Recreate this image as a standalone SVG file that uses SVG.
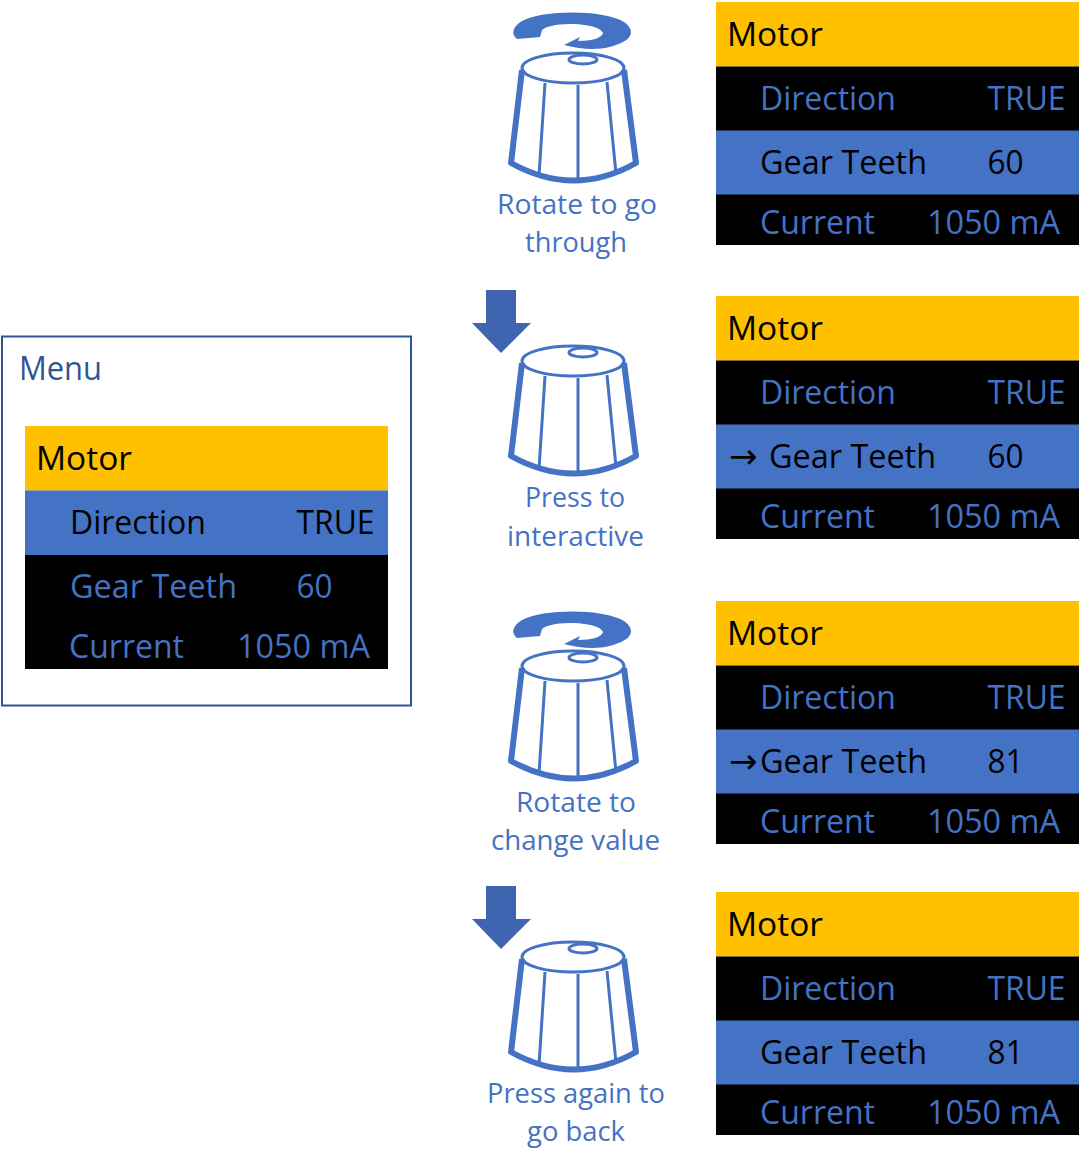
<svg xmlns="http://www.w3.org/2000/svg" width="1087" height="1167" viewBox="0 0 1087 1167">
<style>
text{font-family:"Open Sans","Noto Sans","Liberation Sans",sans-serif;font-size:32.500px}
.b{fill:#4472C4}.k{fill:#000}.y{fill:#FFC000}.m{fill:#2F5597}
.lab{fill:#4472C4;font-size:28px;text-anchor:middle}
.arr{font-family:"DejaVu Sans",sans-serif;font-size:34px}
.thick{fill:none;stroke:#4472C4;stroke-width:6;stroke-linejoin:round}
.thin{fill:none;stroke:#4472C4;stroke-width:3}
.rot{fill:#4472C4}.press{fill:#3F65B0}
</style>
<defs>
<g id="knob">
<path class="thick" d="M522 70L511 163Q574 198 636 163L624 70"/>
<ellipse class="thin" cx="573" cy="68" rx="51" ry="15"/>
<ellipse class="thin" cx="583" cy="59.500" rx="14" ry="4.500"/>
<path class="thin" d="M545 83L539 176M578 85L578 179M607 82L616 174"/>
</g>
<path id="rotate" class="rot" d="M517 39C511 34 512 27 522 21C545 9 605 10 624 22C634 29 633 37 623 42C610 49 590 52 564 45L580 37L578 41C592 41 602 38 603 33C601 27 585 24 570 24C555 24 545 27 542 30L540 37Z"/>
<path id="press" class="press" d="M486 290H516V323H531L501 353L472 323H486Z"/>
<g id="panel-base">
<rect x="716" y="2" width="363" height="64.500" class="y"/>
<rect x="716" y="66.500" width="363" height="178.500" class="k"/>
<rect x="716" y="130.500" width="363" height="64" class="b"/>
<text x="727" y="46" class="k" textLength="96" lengthAdjust="spacingAndGlyphs">Motor</text>
<text x="760" y="110" class="b" textLength="136" lengthAdjust="spacingAndGlyphs">Direction</text>
<text x="987.500" y="110" class="b" textLength="78" lengthAdjust="spacingAndGlyphs">TRUE</text>
<text x="760" y="234" class="b" textLength="115" lengthAdjust="spacingAndGlyphs">Current</text>
<text x="927" y="234" class="b" textLength="133" lengthAdjust="spacingAndGlyphs">1050 mA</text>
</g>
</defs>
<g id="menu">
<rect x="2" y="336.500" width="409" height="369" fill="#fff" stroke="#2F5597" stroke-width="2"/>
<text x="19" y="380" class="m" textLength="83" lengthAdjust="spacingAndGlyphs">Menu</text>
<rect x="25" y="426" width="363" height="64.500" class="y"/>
<rect x="25" y="490.500" width="363" height="64.500" class="b"/>
<rect x="25" y="555" width="363" height="114" class="k"/>
<text x="36" y="470" class="k" textLength="96" lengthAdjust="spacingAndGlyphs">Motor</text>
<text x="70" y="534" class="k" textLength="136" lengthAdjust="spacingAndGlyphs">Direction</text>
<text x="296.500" y="534" class="k" textLength="78" lengthAdjust="spacingAndGlyphs">TRUE</text>
<text x="70" y="598" class="b" textLength="167" lengthAdjust="spacingAndGlyphs">Gear Teeth</text>
<text x="296.500" y="598" class="b" textLength="36" lengthAdjust="spacingAndGlyphs">60</text>
<text x="69" y="658" class="b" textLength="115" lengthAdjust="spacingAndGlyphs">Current</text>
<text x="237" y="658" class="b" textLength="133" lengthAdjust="spacingAndGlyphs">1050 mA</text>
</g>
<g id="step-1">
<use href="#rotate"/><use href="#knob"/>
<text x="577" y="214" class="lab" textLength="160" lengthAdjust="spacingAndGlyphs">Rotate to go</text>
<text x="576" y="252" class="lab" textLength="102" lengthAdjust="spacingAndGlyphs">through</text>
</g>
<g id="screen-1">
<use href="#panel-base"/>
<text x="760" y="174" class="k" textLength="167" lengthAdjust="spacingAndGlyphs">Gear Teeth</text>
<text x="987.500" y="174" class="k" textLength="36" lengthAdjust="spacingAndGlyphs">60</text>
</g>
<g id="step-2">
<use href="#press"/><use href="#knob" transform="translate(0 293)"/>
<text x="575" y="507" class="lab" textLength="100" lengthAdjust="spacingAndGlyphs">Press to</text>
<text x="575.500" y="546" class="lab" textLength="137" lengthAdjust="spacingAndGlyphs">interactive</text>
</g>
<g id="screen-2">
<use href="#panel-base" transform="translate(0 294)"/>
<text x="729" y="468" class="k arr">→</text>
<text x="769" y="468" class="k" textLength="167" lengthAdjust="spacingAndGlyphs">Gear Teeth</text>
<text x="987.500" y="468" class="k" textLength="36" lengthAdjust="spacingAndGlyphs">60</text>
</g>
<g id="step-3">
<use href="#rotate" transform="translate(0 599)"/><use href="#knob" transform="translate(0 598)"/>
<text x="576" y="812" class="lab" textLength="120" lengthAdjust="spacingAndGlyphs">Rotate to</text>
<text x="575.500" y="850" class="lab" textLength="169" lengthAdjust="spacingAndGlyphs">change value</text>
</g>
<g id="screen-3">
<use href="#panel-base" transform="translate(0 599)"/>
<text x="729" y="773" class="k arr">→</text>
<text x="760" y="773" class="k" textLength="167" lengthAdjust="spacingAndGlyphs">Gear Teeth</text>
<text x="987.500" y="773" class="k" textLength="36" lengthAdjust="spacingAndGlyphs">81</text>
</g>
<g id="step-4">
<use href="#press" transform="translate(0 596)"/><use href="#knob" transform="translate(0 889)"/>
<text x="576" y="1103" class="lab" textLength="178" lengthAdjust="spacingAndGlyphs">Press again to</text>
<text x="576" y="1141" class="lab" textLength="98" lengthAdjust="spacingAndGlyphs">go back</text>
</g>
<g id="screen-4">
<use href="#panel-base" transform="translate(0 890)"/>
<text x="760" y="1064" class="k" textLength="167" lengthAdjust="spacingAndGlyphs">Gear Teeth</text>
<text x="987.500" y="1064" class="k" textLength="36" lengthAdjust="spacingAndGlyphs">81</text>
</g>
</svg>
